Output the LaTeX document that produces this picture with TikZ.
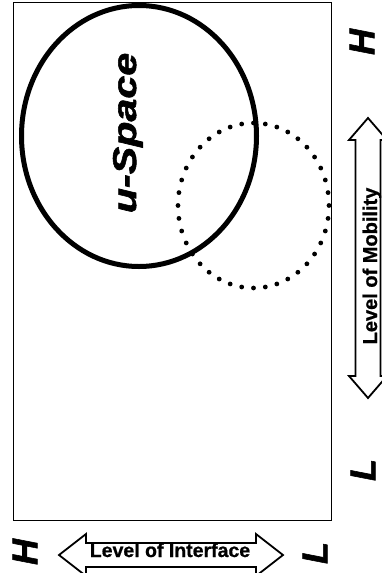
\documentclass[tikz,border=0pt]{standalone}
\usepackage{fontspec}
\setmainfont{Liberation Sans}
\newfontfamily\heavyfont[FakeBold=1.6]{Liberation Sans}
\newfontfamily\boldlabel[FakeBold=0.8]{Liberation Sans}
\usetikzlibrary{shapes.geometric}
\begin{document}
\begin{tikzpicture}[x=1pt,y=-1pt,
  frame/.style={draw, line width=1.3pt, inner sep=0pt, minimum width=318pt, minimum height=518pt},
  space/.style={draw, ellipse, line width=5pt, inner sep=0pt},
  blockarrow/.style={draw, line width=1.8pt, fill=white, line join=miter},
  axislabel/.style={font=\boldlabel\bfseries\fontsize{20}{20}\selectfont, inner sep=0pt, rotate=90, anchor=base},
  endmark/.style={font=\heavyfont\bfseries\itshape\fontsize{36}{36}\selectfont, inner sep=0pt, rotate=90}]
\useasboundingbox (0,0) rectangle (382,573);

% frame of the diagram
\node[frame, anchor=north west] (box) at (13,2) {};

% dotted region
\foreach \a in {0,9,...,351}
  \fill ({253.5+75.5*cos(\a)},{205.5+82.5*sin(\a)}) circle (2.4pt);

% solid u-Space region
\node[space, minimum width=235pt, minimum height=261pt] (u) at (139,136) {};
\node[font=\heavyfont\bfseries\itshape\fontsize{33}{33}\selectfont, inner sep=0pt, rotate=90, anchor=base]
  (ulabel) at (136,133) {\scalebox{1.25}[1]{u-Space}};

% level of mobility (vertical double arrow)
\draw[blockarrow] (368,118) -- (349,140) -- (355.5,140) -- (355.5,376) -- (349,376)
  -- (368,398) -- (387,376) -- (380.5,376) -- (380.5,140) -- (387,140) -- cycle;
\node[axislabel] (mob) at (377,266) {Level of Mobility};

% level of interface (horizontal double arrow)
\draw[blockarrow] (59,555) -- (86,534) -- (86,543) -- (256,543) -- (256,534)
  -- (283,555) -- (256,576) -- (256,567) -- (86,567) -- (86,576) -- cycle;
\node[axislabel, rotate=-90, font=\boldlabel\bfseries\fontsize{19.5}{19.5}\selectfont] (intf) at (170,557) {Level of Interface};

% end marks
\node[endmark] (mobH) at (362,42) {H};
\node[endmark] (mobL) at (363,470) {L};
\node[endmark] (intH) at (25,552) {H};
\node[endmark] (intL) at (315,553) {L};
\end{tikzpicture}
\end{document}
